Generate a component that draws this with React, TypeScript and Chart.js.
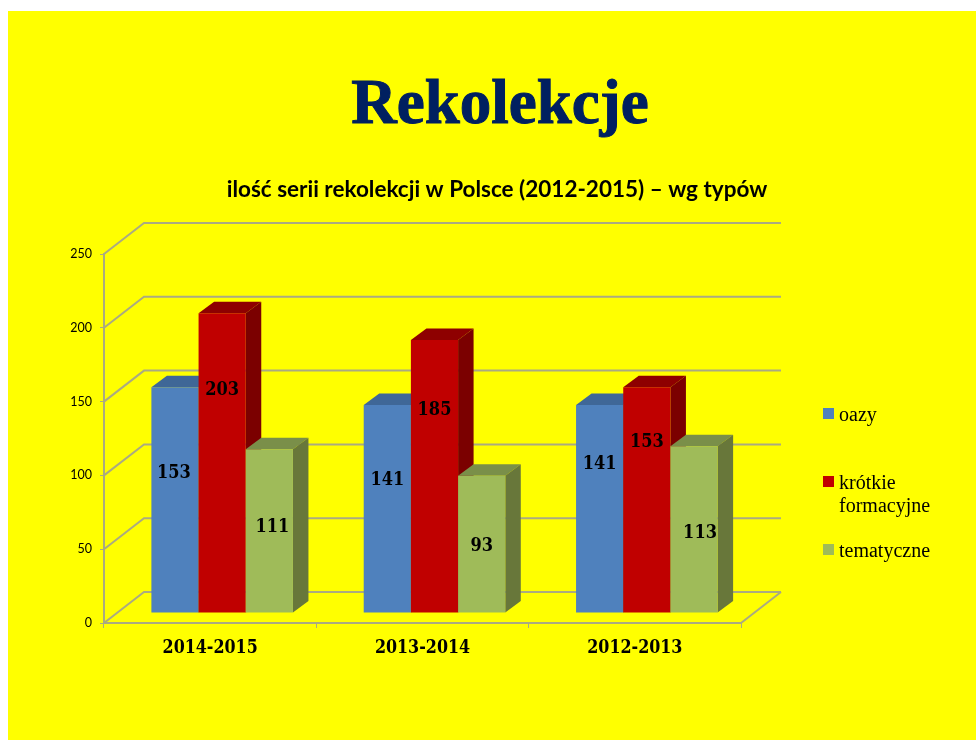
import React, { useEffect, useRef } from "react";
import { Chart, registerables } from "chart.js";

Chart.register(...registerables);

const categories = ["2014-2015", "2013-2014", "2012-2013"];
const oazy = [153, 141, 141];
const krotkie = [203, 185, 153];
const tematyczne = [111, 93, 113];
const seriesNames = ["oazy", "krótkie formacyjne", "tematyczne"];
const yMax = 250;
const yStep = 50;

const titleText = "Rekolekcje";
const subtitleText = "ilość serii rekolekcji w Polsce (2012-2015) – wg typów";

const FRONT = ["#4f81bd", "#c00000", "#9fbb59"];
const TOP = ["#3f6797", "#8e0000", "#7a8f49"];
const SIDE = ["#2f4d71", "#7b0000", "#68773a"];
const GRID = "#aaaa82";
const NAVY = "#002060";
const SERIF = '"Liberation Serif", serif';
const SLAB = '"DejaVu Serif Condensed", "DejaVu Serif", serif';
const SANS = 'Lato, sans-serif';

// floor/wall projection, bar position on the floor, bar depth
const WALL = { dx: 40, dy: 31 };
const SHIFT = { dx: 12, dy: 10 };
const DEPTH = { dx: 15.5, dy: 11.5 };
// data label placement from each bar's top centre [series][category] = [dx, dy]
const LABEL_OFFSETS = [
  [[-1, 86], [0, 75], [0, 59]],
  [[0, 77], [0, 70], [0, 55]],
  [[3, 78], [0, 71], [6, 87]],
];

const box3d = {
  id: "box3d",
  beforeDatasetsDraw(chart: any) {
    const { ctx, chartArea, scales } = chart;
    ctx.save();
    ctx.strokeStyle = GRID;
    ctx.lineWidth = 2;
    for (let v = 0; v <= yMax; v += yStep) {
      const y = scales.y.getPixelForValue(v);
      ctx.beginPath();
      ctx.moveTo(chartArea.left, y);
      ctx.lineTo(chartArea.left + WALL.dx, y - WALL.dy);
      ctx.lineTo(chartArea.right + WALL.dx, y - WALL.dy);
      ctx.stroke();
    }
    const y0 = scales.y.getPixelForValue(0);
    ctx.beginPath();
    ctx.moveTo(chartArea.right, y0);
    ctx.lineTo(chartArea.right + WALL.dx, y0 - WALL.dy);
    ctx.stroke();
    ctx.restore();
  },
  // the library's own pass is replaced below so that later series overlap earlier ones
  beforeDatasetDraw() {
    return false;
  },
  afterDatasetsDraw(chart: any) {
    const { ctx } = chart;
    chart.data.datasets.forEach((_: any, i: number) => {
      const meta = chart.getDatasetMeta(i);
      ctx.save();
      ctx.translate(SHIFT.dx, -SHIFT.dy);
      meta.data.forEach((bar: any) => {
        const x0 = bar.x - bar.width / 2;
        const x1 = bar.x + bar.width / 2;
        ctx.fillStyle = TOP[i];
        ctx.beginPath();
        ctx.moveTo(x0, bar.y);
        ctx.lineTo(x0 + DEPTH.dx, bar.y - DEPTH.dy);
        ctx.lineTo(x1 + DEPTH.dx, bar.y - DEPTH.dy);
        ctx.lineTo(x1, bar.y);
        ctx.closePath();
        ctx.fill();
        ctx.fillStyle = SIDE[i];
        ctx.beginPath();
        ctx.moveTo(x1, bar.y);
        ctx.lineTo(x1 + DEPTH.dx, bar.y - DEPTH.dy);
        ctx.lineTo(x1 + DEPTH.dx, bar.base - DEPTH.dy);
        ctx.lineTo(x1, bar.base);
        ctx.closePath();
        ctx.fill();
      });
      meta.controller.draw();
      ctx.restore();
    });
    ctx.save();
    // data labels
    ctx.font = `bold 18px ${SLAB}`;
    ctx.fillStyle = "#000";
    ctx.textAlign = "center";
    ctx.textBaseline = "middle";
    chart.data.datasets.forEach((ds: any, i: number) => {
      chart.getDatasetMeta(i).data.forEach((bar: any, j: number) => {
        const [ox, oy] = LABEL_OFFSETS[i][j];
        ctx.fillText(String(ds.data[j]), bar.x + SHIFT.dx + ox, bar.y - SHIFT.dy + oy);
      });
    });
    // heading
    ctx.fillStyle = NAVY;
    ctx.strokeStyle = NAVY;
    ctx.lineWidth = 1;
    ctx.font = `bold 63px ${SERIF}`;
    ctx.textBaseline = "alphabetic";
    ctx.fillText(titleText, 500, 123);
    ctx.strokeText(titleText, 500, 123);
    ctx.fillStyle = "#000";
    ctx.font = `bold 22.5px ${SANS}`;
    ctx.fillText(subtitleText, 497, 197);
    // legend
    ctx.textAlign = "left";
    ctx.font = `20px ${SERIF}`;
    const legendRows = [
      { swatchY: 408, lines: [[seriesNames[0], 421]] },
      { swatchY: 476, lines: [[seriesNames[1].split(" ")[0], 489], [seriesNames[1].split(" ")[1], 512]] },
      { swatchY: 544, lines: [[seriesNames[2], 557]] },
    ];
    legendRows.forEach((row, i) => {
      ctx.fillStyle = FRONT[i];
      ctx.fillRect(823, row.swatchY, 11, 11);
      ctx.fillStyle = "#000";
      row.lines.forEach(([t, y]: any) => ctx.fillText(t, 839, y));
    });
    ctx.restore();
  },
};

export default function App() {
  const ref = useRef<HTMLCanvasElement>(null);
  useEffect(() => {
    const chart = new Chart(ref.current!, {
      type: "bar",
      data: {
        labels: categories,
        datasets: [
          { label: seriesNames[0], data: oazy, backgroundColor: FRONT[0] },
          { label: seriesNames[1], data: krotkie, backgroundColor: FRONT[1] },
          { label: seriesNames[2], data: tematyczne, backgroundColor: FRONT[2] },
        ],
      },
      options: {
        animation: false,
        responsive: false,
        events: [],
        clip: false,
        layout: { padding: { left: 60, right: 235, top: 254, bottom: 60 } },
        datasets: { bar: { categoryPercentage: 2 / 3, barPercentage: 1 } },
        plugins: { legend: { display: false }, title: { display: false }, tooltip: { enabled: false } },
        scales: {
          x: {
            afterFit: (s: any) => { s.height = 57; },
            grid: { drawOnChartArea: false, color: GRID, tickLength: 5, lineWidth: 1 },
            border: { color: GRID, width: 2 },
            ticks: { color: "#000", padding: 10, font: { family: SLAB, size: 17.7, weight: "bold" } },
          },
          y: {
            min: 0,
            max: yMax,
            afterFit: (s: any) => { s.width = 44; },
            grid: { drawOnChartArea: false, color: GRID, tickLength: 4, lineWidth: 1 },
            border: { color: GRID, width: 2 },
            ticks: { stepSize: yStep, color: "#000", padding: 8, font: { family: SANS, size: 12.5 } },
          },
        },
      } as any,
      plugins: [box3d],
    });
    return () => chart.destroy();
  }, []);
  return (
    <div style={{ position: "absolute", left: 0, top: 0, width: 976, height: 740, overflow: "hidden", background: "#fff" }}>
      <div style={{ position: "absolute", left: 8, top: 11, width: 968, height: 729, background: "#ffff00" }} />
      <canvas ref={ref} width={976} height={740} style={{ position: "absolute", left: 0, top: 0 }} />
    </div>
  );
}
